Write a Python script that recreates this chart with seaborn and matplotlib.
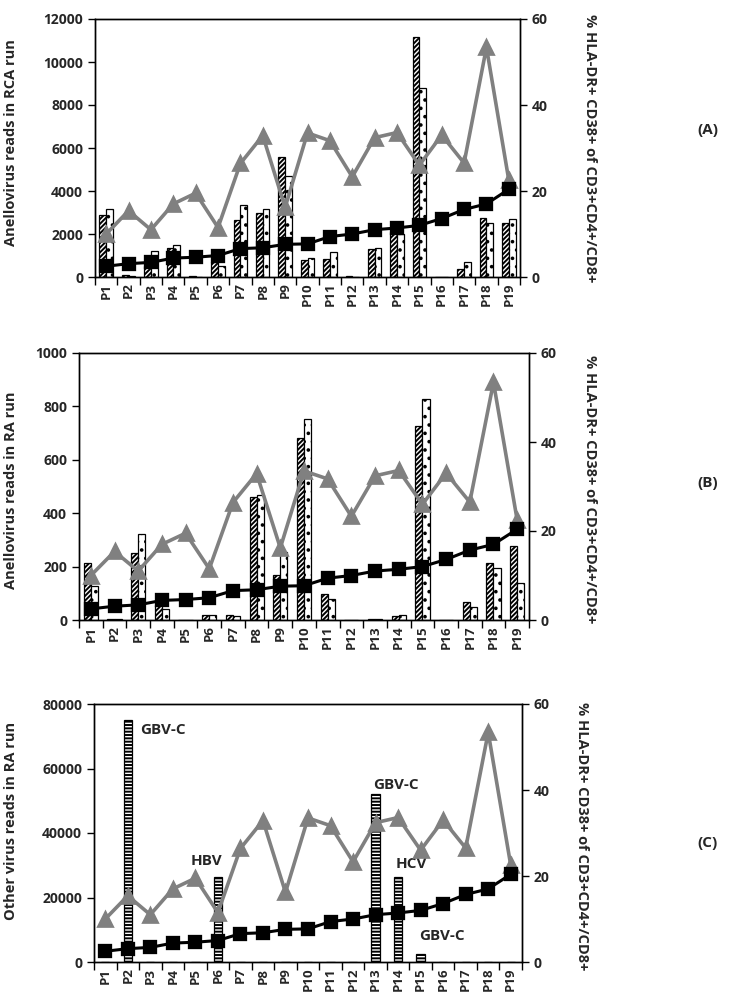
import numpy as np
import pandas as pd
import matplotlib
matplotlib.use("Agg")
import matplotlib.pyplot as plt
import seaborn as sns

patients = ["P%d" % i for i in range(1, 20)]

# % HLA-DR+ CD38+ (right axis), same in all panels
cd4_pct = [2.5, 3.1, 3.4, 4.4, 4.6, 5.0, 6.6, 6.8, 7.6, 7.7, 9.4, 10.0,
           11.0, 11.4, 12.0, 13.6, 15.7, 17.0, 20.4]
cd8_pct = [10.0, 15.4, 11.0, 17.0, 19.5, 11.5, 26.4, 32.9, 16.2, 33.5, 31.7, 23.3,
           32.4, 33.6, 26.0, 33.0, 26.5, 53.4, 22.5]

# panel A: anellovirus reads in RCA run
rca_hatched = [2870, 90, 500, 1360, 30, 690, 2670, 2960, 5590, 810, 840, 30,
               1300, 2100, 11150, 20, 370, 2730, 2500]
rca_dotted = [3180, 60, 1200, 1480, 20, 500, 3370, 3150, 4700, 870, 1145, 20,
              1330, 2000, 8800, 10, 700, 2490, 2700]

# panel B: anellovirus reads in RA run
ra_hatched = [212, 3, 250, 56, 0, 19, 17, 459, 170, 680, 97, 0,
              4, 14, 725, 0, 68, 214, 279]
ra_dotted = [129, 2, 322, 40, 0, 20, 15, 467, 256, 754, 80, 0,
             4, 19, 829, 0, 50, 196, 140]

# panel C: other virus reads in RA run
other_reads = [0, 75000, 0, 0, 0, 26300, 0, 0, 0, 0, 0, 0,
               52000, 26300, 2600, 0, 0, 0, 0]
virus_names = ["GBV-C", "HBV", "GBV-C", "HCV", "GBV-C"]

sns.set_style("ticks")
plt.rcParams["font.family"] = ["Open Sans", "DejaVu Sans"]
plt.rcParams["font.weight"] = "bold"
plt.rcParams["hatch.linewidth"] = 1.4

fig = plt.figure(figsize=(7.29, 10.07), dpi=100)
W, H = 729, 1007


def make_ax(l, r, t, b):
    return fig.add_axes([l / W, 1 - b / H, (r - l) / W, (b - t) / H])


def style_axes(ax, ax2, ymax, ystep, ylabel, lab_x, lab_y, rlab_x, rlab_y):
    ax.set_xlim(-0.5, 18.5)
    ax.set_ylim(0, ymax)
    ax.set_yticks(np.arange(0, ymax + 1, ystep))
    ax.set_xticks(range(19))
    ax.set_xticklabels(patients, rotation=90, fontsize=9.5, fontweight="bold")
    ax.set_xticks(np.arange(-0.5, 19, 1), minor=True)
    ax.tick_params(axis="x", which="major", length=0, pad=4)
    ax.tick_params(axis="x", which="minor", length=6, width=1, color="black", direction="out")
    ax.tick_params(axis="y", length=5, width=1, color="black", labelsize=10)
    for lab in ax.get_yticklabels():
        lab.set_fontweight("bold")
    ax.set_xlabel("")
    ax.set_ylabel(ylabel, fontsize=10.5, fontweight="bold")
    ax.yaxis.set_label_coords(lab_x, lab_y)
    for s in ax.spines.values():
        s.set_visible(True)
        s.set_color("black")
        s.set_linewidth(1)

    ax2.set_ylim(0, 60)
    ax2.set_yticks([0, 20, 40, 60])
    ax2.tick_params(axis="y", length=5, width=1, color="black", labelsize=10)
    for lab in ax2.get_yticklabels():
        lab.set_fontweight("bold")
    ax2.set_xlabel("")
    ax2.set_ylabel("% HLA-DR+ CD38+ of CD3+CD4+/CD8+", fontsize=10.5,
                   fontweight="bold", rotation=270, va="center")
    ax2.yaxis.set_label_coords(rlab_x, rlab_y)
    for s in ax2.spines.values():
        s.set_visible(True)
        s.set_color("black")
        s.set_linewidth(1)
    ax2.set_xlim(-0.5, 18.5)


def draw_lines(ax2):
    sns.pointplot(x=patients, y=cd8_pct, ax=ax2, color="#808080", markers="^",
                  markersize=10, linewidth=2.6, errorbar=None)
    sns.pointplot(x=patients, y=cd4_pct, ax=ax2, color="black", markers="s",
                  markersize=8.5, linewidth=2.2, errorbar=None)


def paired_panel(ax, hatched, dotted):
    df = pd.DataFrame({
        "patient": patients * 2,
        "reads": hatched + dotted,
        "kind": ["hatched"] * 19 + ["dotted"] * 19,
    })
    sns.barplot(data=df, x="patient", y="reads", hue="kind", ax=ax, width=0.6,
                palette=["white", "white"], edgecolor="black", linewidth=0.9,
                errorbar=None, legend=False, saturation=1)
    for bar in ax.containers[0]:
        bar.set_hatch("///////")
    for bar in ax.containers[1]:
        bar.set_hatch("..")


# panel A
axA = make_ax(95, 520, 19, 277)
paired_panel(axA, rca_hatched, rca_dotted)
axA2 = axA.twinx()
draw_lines(axA2)
style_axes(axA, axA2, 12000, 2000, "Anellovirus reads in RCA run",
           -0.181, 0.523, 1.165, 0.5)

# panel B
axB = make_ax(79, 529, 353, 620)
paired_panel(axB, ra_hatched, ra_dotted)
axB2 = axB.twinx()
draw_lines(axB2)
style_axes(axB, axB2, 1000, 200, "Anellovirus reads in RA run",
           -0.136, 0.487, 1.136, 0.49)

# panel C
axC = make_ax(94, 522, 704, 962)
sns.barplot(x=patients, y=other_reads, ax=axC, width=0.37, color="white",
            edgecolor="black", linewidth=0.9, errorbar=None, saturation=1)
for bar in axC.containers[0]:
    bar.set_hatch("-----")
axC2 = axC.twinx()
draw_lines(axC2)
style_axes(axC, axC2, 80000, 20000, "Other virus reads in RA run",
           -0.178, 0.547, 1.140, 0.488)

label_pos = [(1.55, 72000), (3.77, 31300), (11.9, 54900), (12.9, 30400), (13.94, 8060)]
for name, (lx, ly) in zip(virus_names, label_pos):
    axC.text(lx, ly, name, ha="left", va="center", fontsize=11, fontweight="bold")

for txt, y in [("(A)", 130), ("(B)", 483), ("(C)", 843)]:
    fig.text(708 / W, 1 - y / H, txt, ha="center", va="center",
             fontsize=11, fontweight="bold")

fig.savefig("out.png", dpi=100)
